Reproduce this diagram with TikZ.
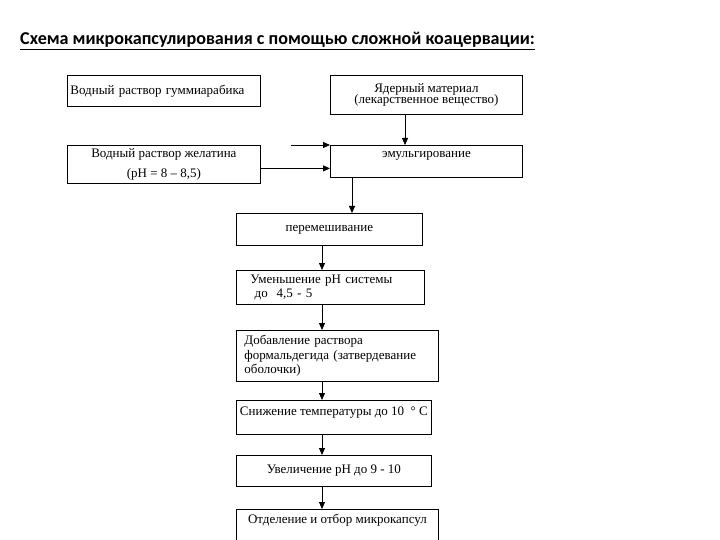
\documentclass[tikz,border=0pt]{standalone}
\usepackage{fontspec}
\setmainfont{Liberation Serif}
\newfontfamily\titlefont{Carlito}
\usetikzlibrary{arrows.meta,positioning}

\begin{document}
\begin{tikzpicture}[x=1pt,y=-1pt,>={Triangle[length=7pt,width=6pt]},
box/.style={draw,line width=0.8pt,anchor=north west,inner sep=3pt,font=\fontsize{13}{14.5}\selectfont},
wire/.style={->,line width=0.8pt}]
\useasboundingbox (0,0) rectangle (720,540);
\node[anchor=base west,inner sep=0pt,font=\titlefont\bfseries\fontsize{18.1}{20}\selectfont] (title) at (20,45) {\underline{Схема микрокапсулирования с помощью сложной коацервации:}};
% starting materials
\node[box,minimum width=193pt,minimum height=31pt,text width=187pt,align=left] (gum) at (67,75) {Водный раствор гуммиарабика};
\node[box,minimum width=192pt,minimum height=39pt,align=center] (core) at (330,75) {Ядерный материал\\[-3pt](лекарственное вещество)};
\node[box,minimum width=193pt,minimum height=38pt,align=center] (gel) at (67,145) {Водный раствор желатина\\[5pt](pH = 8 -- 8,5)};
\node[box,minimum width=192pt,minimum height=32pt,text depth=14pt] (emul) at (330,145) {эмульгирование};
% process chain
\node[box,minimum width=186pt,minimum height=32pt] (mix) at (236,213) {перемешивание};
\node[box,minimum width=188pt,minimum height=34pt,text width=160pt,align=left] (acid) at (236,270) {Уменьшение pH системы\\\ до\ \ 4,5 - 5};
\node[box,minimum width=202pt,minimum height=51pt,text width=186pt,align=left] (form) at (236,330) {Добавление раствора\\формальдегида (затвердевание\\оболочки)};
\node[box,minimum width=195pt,minimum height=34pt,inner xsep=1pt,text depth=12pt] (cool) at (236,400) {Снижение температуры до 10\ \ ° С};
\node[box,minimum width=195pt,minimum height=31pt] (base) at (236,455) {Увеличение pH до 9 - 10};
\node[box,minimum width=202pt,minimum height=33pt,text depth=14pt] (sep) at (236,509) {Отделение и отбор микрокапсул};
% connectors
\coordinate (coredrop) at (405,0);
\coordinate (emuldrop) at (352,0);
\coordinate (spine) at (322,0);
\coordinate (gumend) at (291,145);
\draw[wire] (core.south -| coredrop) -- (emul.north -| coredrop);
\draw[wire] (gumend) -- (emul.north west);
\draw[wire] ([yshift=-4pt]gel.east) -- ([yshift=-4pt]gel.east -| emul.west);
\draw[wire] (emul.south -| emuldrop) -- (mix.north -| emuldrop);
\draw[wire] (mix.south -| spine) -- (acid.north -| spine);
\draw[wire] (acid.south -| spine) -- (form.north -| spine);
\draw[wire] (form.south -| spine) -- (cool.north -| spine);
\draw[wire] (cool.south -| spine) -- (base.north -| spine);
\draw[wire] (base.south -| spine) -- (sep.north -| spine);
\end{tikzpicture}
\end{document}
